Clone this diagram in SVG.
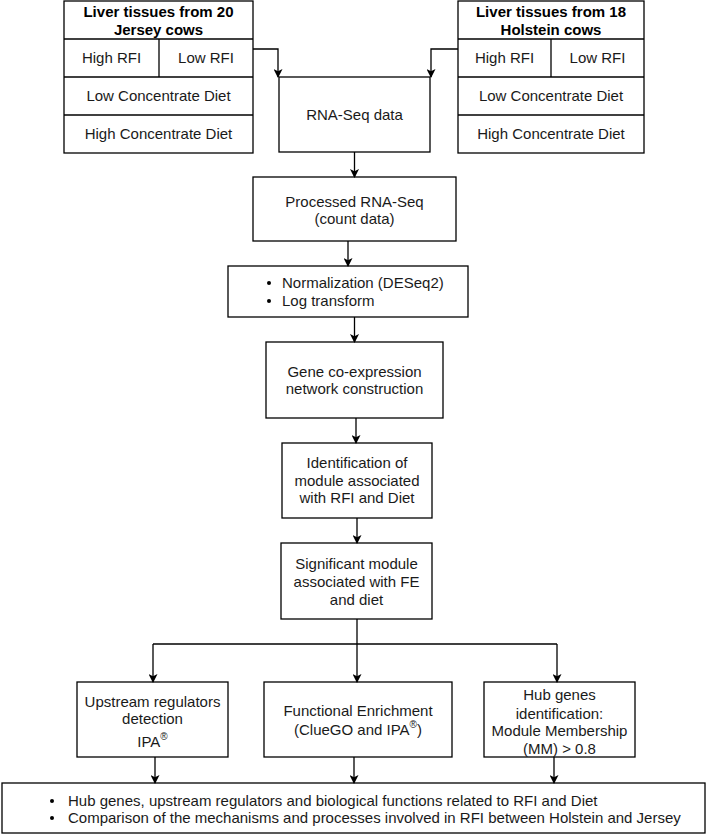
<svg xmlns="http://www.w3.org/2000/svg" width="709" height="835" viewBox="0 0 709 835">
<defs>
<style>
rect.b{fill:#fff;stroke:#000;stroke-width:1.3}
line.d{stroke:#000;stroke-width:1.3}
text{font-family:"Liberation Sans",Arial,Helvetica,sans-serif;font-size:15px;fill:#1a1a1a;text-anchor:middle}
text.h{font-weight:bold;fill:#000}
text.l{text-anchor:start}
.c path{fill:none;stroke:#000;stroke-width:1.3}
</style>
<marker id="ah" viewBox="0 0 10 10" refX="9" refY="5" markerWidth="10" markerHeight="9" markerUnits="userSpaceOnUse" orient="auto">
<path d="M0,0 L10,5 L0,10 L2.5,5 Z" fill="#000"/>
</marker>
</defs>
<rect width="709" height="835" fill="#fff"/>

<g id="jersey">
<rect class="b" x="64" y="1" width="189" height="152"/>
<line class="d" x1="64" y1="39" x2="253" y2="39"/>
<line class="d" x1="64" y1="77" x2="253" y2="77"/>
<line class="d" x1="64" y1="115" x2="253" y2="115"/>
<line class="d" x1="159" y1="39" x2="159" y2="77"/>
<text class="h" x="158.5" y="17">Liver tissues from 20</text>
<text class="h" x="158.5" y="35">Jersey cows</text>
<text x="111.5" y="63">High RFI</text>
<text x="206" y="63">Low RFI</text>
<text x="158.5" y="101">Low Concentrate Diet</text>
<text x="158.5" y="139">High Concentrate Diet</text>
</g>

<g id="holstein">
<rect class="b" x="458" y="1" width="186" height="152"/>
<line class="d" x1="458" y1="39" x2="644" y2="39"/>
<line class="d" x1="458" y1="77" x2="644" y2="77"/>
<line class="d" x1="458" y1="115" x2="644" y2="115"/>
<line class="d" x1="551" y1="39" x2="551" y2="77"/>
<text class="h" x="551" y="17">Liver tissues from 18</text>
<text class="h" x="551" y="35">Holstein cows</text>
<text x="504.5" y="63">High RFI</text>
<text x="597.5" y="63">Low RFI</text>
<text x="551" y="101">Low Concentrate Diet</text>
<text x="551" y="139">High Concentrate Diet</text>
</g>

<g id="rnaseq">
<rect class="b" x="279" y="77" width="151" height="75"/>
<text x="354.5" y="120">RNA-Seq data</text>
</g>

<g id="processed">
<rect class="b" x="253" y="177" width="203" height="64"/>
<text x="354.5" y="207">Processed RNA-Seq</text>
<text x="354.5" y="224">(count data)</text>
</g>

<g id="normalization">
<rect class="b" x="228" y="266" width="240" height="51"/>
<circle cx="269" cy="283" r="2"/>
<circle cx="269" cy="301" r="2"/>
<text class="l" x="282" y="288">Normalization (DESeq2)</text>
<text class="l" x="282" y="306">Log transform</text>
</g>

<g id="network">
<rect class="b" x="266" y="342" width="177" height="76"/>
<text x="354.5" y="377">Gene co-expression</text>
<text x="354.5" y="394">network construction</text>
</g>

<g id="identification">
<rect class="b" x="282" y="443" width="150" height="75"/>
<text x="357" y="468">Identification of</text>
<text x="357" y="486">module associated</text>
<text x="357" y="503">with RFI and Diet</text>
</g>

<g id="significant">
<rect class="b" x="281" y="543" width="151" height="76"/>
<text x="356.5" y="569">Significant module</text>
<text x="356.5" y="587">associated with FE</text>
<text x="356.5" y="605">and diet</text>
</g>

<g id="upstream">
<rect class="b" x="77" y="682" width="151" height="75"/>
<text x="152.5" y="707">Upstream regulators</text>
<text x="152.5" y="724">detection</text>
<text x="152.5" y="747">IPA<tspan font-size="10" dy="-7">®</tspan></text>
</g>

<g id="enrichment">
<rect class="b" x="264" y="682" width="188" height="75"/>
<text x="358" y="716">Functional Enrichment</text>
<text x="358" y="735">(ClueGO and IPA<tspan font-size="10" dy="-7">®</tspan><tspan dy="7">)</tspan></text>
</g>

<g id="hubgenes">
<rect class="b" x="484" y="682" width="151" height="75"/>
<text x="559.5" y="700">Hub genes</text>
<text x="559.5" y="719">identification:</text>
<text x="559.5" y="736">Module Membership</text>
<text x="559.5" y="754">(MM) &gt; 0.8</text>
</g>

<g id="results">
<rect class="b" x="2" y="783" width="703" height="50"/>
<circle cx="52" cy="801" r="2"/>
<circle cx="52" cy="818" r="2"/>
<text class="l" x="68" y="806">Hub genes, upstream regulators and biological functions related to RFI and Diet</text>
<text class="l" x="68" y="823">Comparison of the mechanisms and processes involved in RFI between Holstein and Jersey</text>
</g>

<g id="connectors" class="c">
<path d="M253,49 H278 V77" marker-end="url(#ah)"/>
<path d="M458,49 H431 V77" marker-end="url(#ah)"/>
<path d="M354.5,152 V177" marker-end="url(#ah)"/>
<path d="M348,241 V266" marker-end="url(#ah)"/>
<path d="M354.5,317 V342" marker-end="url(#ah)"/>
<path d="M356,418 V443" marker-end="url(#ah)"/>
<path d="M357,518 V543" marker-end="url(#ah)"/>
<path d="M357,619 V644"/>
<path d="M153,644 H557"/>
<path d="M153,644 V682" marker-end="url(#ah)"/>
<path d="M357,644 V682" marker-end="url(#ah)"/>
<path d="M557,644 V682" marker-end="url(#ah)"/>
<path d="M155,757 V783" marker-end="url(#ah)"/>
<path d="M354,757 V783" marker-end="url(#ah)"/>
<path d="M554,757 V783" marker-end="url(#ah)"/>
</g>
</svg>
